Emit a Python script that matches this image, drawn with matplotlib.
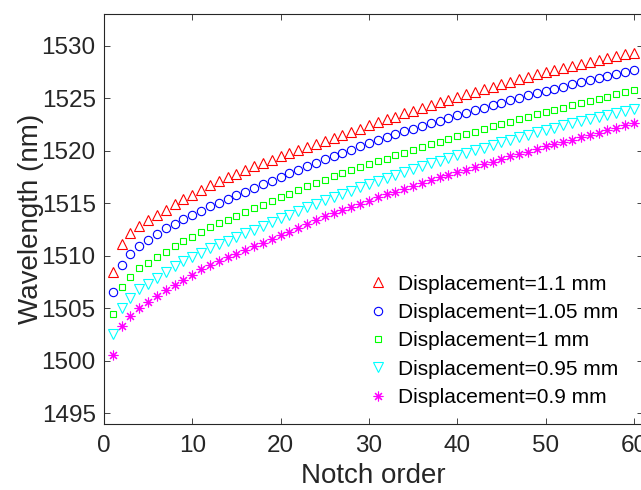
import matplotlib
matplotlib.use("Agg")
import matplotlib.pyplot as plt

# notch order and peak wavelengths (nm) for each displacement
notch = list(range(1, 61))

wl_110 = [1508.5, 1511.1, 1512.2, 1512.8, 1513.4, 1513.9, 1514.4, 1514.9, 1515.4, 1515.8,
          1516.3, 1516.7, 1517.1, 1517.45, 1517.8, 1518.15, 1518.5, 1518.8, 1519.1, 1519.45,
          1519.75, 1520.05, 1520.35, 1520.6, 1520.9, 1521.2, 1521.5, 1521.8, 1522.1, 1522.4,
          1522.7, 1523.0, 1523.25, 1523.55, 1523.8, 1524.1, 1524.35, 1524.6, 1524.85, 1525.1,
          1525.35, 1525.6, 1525.85, 1526.1, 1526.3, 1526.55, 1526.8, 1527.0, 1527.25, 1527.45,
          1527.65, 1527.85, 1528.05, 1528.25, 1528.45, 1528.6, 1528.8, 1529.0, 1529.15, 1529.3]

wl_105 = [1506.6, 1509.1, 1510.2, 1510.9, 1511.5, 1512.1, 1512.6, 1513.05, 1513.5, 1513.9,
          1514.3, 1514.7, 1515.0, 1515.4, 1515.75, 1516.1, 1516.45, 1516.8, 1517.15, 1517.5,
          1517.85, 1518.2, 1518.55, 1518.85, 1519.2, 1519.5, 1519.8, 1520.1, 1520.4, 1520.7,
          1521.0, 1521.3, 1521.55, 1521.85, 1522.1, 1522.35, 1522.6, 1522.85, 1523.1, 1523.35,
          1523.6, 1523.85, 1524.1, 1524.3, 1524.55, 1524.8, 1525.0, 1525.25, 1525.45, 1525.7,
          1525.9, 1526.1, 1526.3, 1526.5, 1526.7, 1526.9, 1527.1, 1527.3, 1527.5, 1527.7]

wl_100 = [1504.5, 1507.0, 1508.0, 1508.8, 1509.3, 1509.9, 1510.4, 1510.9, 1511.4, 1511.8,
          1512.3, 1512.7, 1513.1, 1513.45, 1513.8, 1514.15, 1514.5, 1514.85, 1515.2, 1515.55,
          1515.9, 1516.25, 1516.6, 1516.9, 1517.25, 1517.55, 1517.85, 1518.15, 1518.4, 1518.7,
          1519.0, 1519.25, 1519.55, 1519.8, 1520.1, 1520.35, 1520.6, 1520.85, 1521.1, 1521.35,
          1521.55, 1521.8, 1522.05, 1522.3, 1522.5, 1522.75, 1523.0, 1523.2, 1523.45, 1523.7,
          1523.9, 1524.1, 1524.35, 1524.55, 1524.75, 1524.95, 1525.15, 1525.4, 1525.6, 1525.8]

wl_095 = [1502.6, 1505.0, 1506.0, 1506.8, 1507.3, 1507.9, 1508.5, 1509.0, 1509.5, 1509.9,
          1510.3, 1510.7, 1511.1, 1511.45, 1511.8, 1512.15, 1512.5, 1512.85, 1513.2, 1513.55,
          1513.9, 1514.25, 1514.6, 1514.95, 1515.3, 1515.6, 1515.9, 1516.2, 1516.5, 1516.8,
          1517.1, 1517.4, 1517.7, 1517.95, 1518.25, 1518.5, 1518.8, 1519.05, 1519.3, 1519.55,
          1519.8, 1520.05, 1520.3, 1520.55, 1520.8, 1521.05, 1521.3, 1521.5, 1521.75, 1522.0,
          1522.2, 1522.4, 1522.6, 1522.8, 1523.0, 1523.2, 1523.4, 1523.6, 1523.8, 1524.0]

wl_090 = [1500.6, 1503.3, 1504.3, 1505.0, 1505.6, 1506.2, 1506.7, 1507.2, 1507.7, 1508.2,
          1508.7, 1509.1, 1509.5, 1509.85, 1510.2, 1510.55, 1510.9, 1511.25, 1511.6, 1511.95,
          1512.3, 1512.65, 1513.0, 1513.4, 1513.75, 1514.05, 1514.35, 1514.65, 1514.95, 1515.25,
          1515.55, 1515.85, 1516.1, 1516.4, 1516.65, 1516.95, 1517.2, 1517.45, 1517.7, 1517.95,
          1518.2, 1518.45, 1518.7, 1518.95, 1519.2, 1519.45, 1519.7, 1519.9, 1520.15, 1520.4,
          1520.6, 1520.85, 1521.05, 1521.3, 1521.5, 1521.7, 1521.95, 1522.15, 1522.4, 1522.6]

labels = ['Displacement=1.1 mm', 'Displacement=1.05 mm', 'Displacement=1 mm',
          'Displacement=0.95 mm', 'Displacement=0.9 mm']

plt.rcParams['font.family'] = ['Liberation Sans', 'DejaVu Sans']

fig = plt.figure(figsize=(6.41, 4.90), dpi=100)
ax = fig.add_axes([104 / 641, 66 / 490, 538.8 / 641, 410 / 490])

ax.plot(notch, wl_110, ls='none', marker='^', ms=6.5, mfc='none', mec='red', mew=0.8, label=labels[0])
ax.plot(notch, wl_105, ls='none', marker='o', ms=6, mfc='none', mec='blue', mew=0.8, label=labels[1])
ax.plot(notch, wl_100, ls='none', marker='s', ms=4.8, mfc='none', mec='#00ff00', mew=0.8, label=labels[2])
ax.plot(notch, wl_095, ls='none', marker='v', ms=6.5, mfc='none', mec='cyan', mew=0.8, label=labels[3])
ax.plot(notch, wl_090, ls='none', marker=(8, 2, 0), ms=7, mfc='none', mec='magenta', mew=0.8, label=labels[4])

ax.set_xlim(0, 61)
ax.set_ylim(1494, 1533)
ax.set_xticks(range(0, 61, 10))
ax.set_yticks(range(1495, 1531, 5))

for s in ax.spines.values():
    s.set_color('#262626')
    s.set_linewidth(0.8)
ax.tick_params(direction='in', top=True, right=True, length=4, width=0.6,
               color='#262626', labelcolor='#262626', labelsize=17.5)
ax.tick_params(axis='y', pad=6)
ax.tick_params(axis='x', pad=8)

ax.set_xlabel('Notch order', fontsize=20, color='#262626', labelpad=4)
ax.set_ylabel('Wavelength (nm)', fontsize=20, color='#262626', labelpad=-2)

ax.legend(loc='upper left', bbox_to_anchor=(0.4887, 0.3645), frameon=False,
          fontsize=15, borderpad=0, borderaxespad=0, handlelength=1.0,
          handletextpad=0.47, labelspacing=0.45, markerscale=1.0)

fig.savefig('out.png', dpi=100)
